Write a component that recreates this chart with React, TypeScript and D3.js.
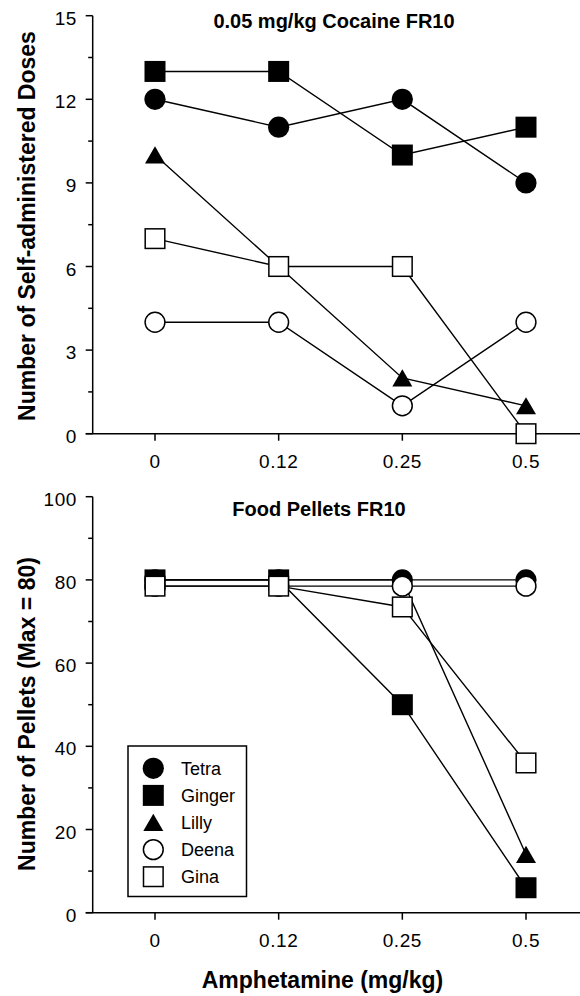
import React from "react";
import * as d3 from "d3";

const doses = ["0", "0.12", "0.25", "0.5"];
const subjects = ["Tetra", "Ginger", "Lilly", "Deena", "Gina"];
const symbols = ["circleFilled", "squareFilled", "triangleFilled", "circleOpen", "squareOpen"];

// Top panel: 0.05 mg/kg Cocaine FR10
const tetraCocaine = [12, 11, 12, 9];
const gingerCocaine = [13, 13, 10, 11];
const lillyCocaine = [10, 6, 2, 1];
const deenaCocaine = [4, 4, 1, 4];
const ginaCocaine = [7, 6, 6, 0];

// Bottom panel: Food Pellets FR10
const tetraFood = [80, 80, 80, 80];
const gingerFood = [80, 80, 50, 6];
const lillyFood = [80, 80, 80, 14];
const deenaFood = [78.5, 78.5, 78.5, 78.5];
const ginaFood = [78.5, 78.5, 73.5, 36];

const topTicks = [0, 3, 6, 9, 12, 15];
const topMinor = [1.5, 4.5, 7.5, 10.5, 13.5];
const bottomTicks = [0, 20, 40, 60, 80, 100];
const bottomMinor = [10, 30, 50, 70, 90];

const FONT = "'Liberation Sans', Arial, Helvetica, sans-serif";
const W = 580;
const H = 996;
const AXIS_X = 92.7;

function Marker({ type, x, y }: { type: string; x: number; y: number }) {
  const sw = 1.5;
  if (type === "circleFilled") return <circle cx={x} cy={y} r={10.6} fill="#000" />;
  if (type === "circleOpen") return <circle cx={x} cy={y} r={9.9} fill="#fff" stroke="#000" strokeWidth={sw} />;
  if (type === "squareFilled") return <rect x={x - 10.5} y={y - 10.5} width={21} height={21} fill="#000" />;
  if (type === "squareOpen") return <rect x={x - 9.8} y={y - 9.8} width={19.6} height={19.6} fill="#fff" stroke="#000" strokeWidth={sw} />;
  const pts = [[x, y - 8.7], [x + 10, y + 8.5], [x - 10, y + 8.5]];
  return <polygon points={pts.map((p) => p.join(",")).join(" ")} fill="#000" />;
}

function Panel({
  series, domainMax, ticks, minor, top, bottom, title, titleX, titleY, yLabel, yLabelCenter, showLegend,
}: {
  series: number[][]; domainMax: number; ticks: number[]; minor: number[]; top: number; bottom: number;
  title: string; titleX: number; titleY: number; yLabel: string; yLabelCenter: number; showLegend: boolean;
}) {
  const x = d3.scalePoint<string>().domain(doses).range([155, 526]);
  const y = d3.scaleLinear().domain([0, domainMax]).range([bottom, top]);
  const line = d3.line<number>().x((_, i) => x(doses[i]) as number).y((d) => y(d));
  return (
    <g>
      {/* axes */}
      <line x1={AXIS_X} x2={AXIS_X} y1={top} y2={bottom} stroke="#000" strokeWidth={1.5} />
      <line x1={AXIS_X - 7} x2={W} y1={bottom} y2={bottom} stroke="#000" strokeWidth={1.5} />
      {ticks.map((t) => (
        <g key={"t" + t}>
          <line x1={AXIS_X - 7} x2={AXIS_X} y1={y(t)} y2={y(t)} stroke="#000" strokeWidth={1.5} />
          <text x={77} y={y(t) + 9} textAnchor="end" fontFamily={FONT} fontSize={19} letterSpacing={0.6}>{t}</text>
        </g>
      ))}
      {minor.map((t) => (
        <line key={"m" + t} x1={AXIS_X - 4.5} x2={AXIS_X} y1={y(t)} y2={y(t)} stroke="#000" strokeWidth={1.5} />
      ))}
      {doses.map((d) => (
        <g key={"x" + d}>
          <line x1={x(d)} x2={x(d)} y1={bottom} y2={bottom + 7} stroke="#000" strokeWidth={1.5} />
          <text x={x(d)} y={bottom + 34.5} textAnchor="middle" fontFamily={FONT} fontSize={19} letterSpacing={0.6}>{d}</text>
        </g>
      ))}
      <text x={titleX} y={titleY} textAnchor="middle" fontFamily={FONT} fontSize={20} fontWeight="bold">{title}</text>
      <text transform={`translate(35,${yLabelCenter}) rotate(-90)`} textAnchor="middle" fontFamily={FONT} fontSize={23} fontWeight="bold">{yLabel}</text>
      {/* lines */}
      {series.map((s, i) => (
        <path key={"l" + i} d={line(s) as string} fill="none" stroke="#000" strokeWidth={1.4} />
      ))}
      {/* markers */}
      {series.map((s, i) =>
        s.map((v, j) => <Marker key={`p${i}-${j}`} type={symbols[i]} x={x(doses[j]) as number} y={y(v)} />)
      )}
      {showLegend && (
        <g>
          <rect x={128} y={746} width={118.5} height={150.5} fill="#fff" stroke="#000" strokeWidth={1.5} />
          {subjects.map((name, i) => {
            const cy = 768.3 + i * 27.1;
            return (
              <g key={name}>
                <Marker type={symbols[i]} x={153.3} y={cy} />
                <text x={181} y={cy + 6.5} fontFamily={FONT} fontSize={18}>{name}</text>
              </g>
            );
          })}
        </g>
      )}
    </g>
  );
}

export default function App() {
  const topSeries = [tetraCocaine, gingerCocaine, lillyCocaine, deenaCocaine, ginaCocaine];
  const bottomSeries = [tetraFood, gingerFood, lillyFood, deenaFood, ginaFood];
  return (
    <svg width={W} height={H} style={{ position: "absolute", left: 0, top: 0, background: "#fff" }}>
      <rect width={W} height={H} fill="#fff" />
      <Panel series={topSeries} domainMax={15} ticks={topTicks} minor={topMinor} top={15.7} bottom={433.7}
        title="0.05 mg/kg Cocaine FR10" titleX={334} titleY={28} yLabel="Number of Self-administered Doses"
        yLabelCenter={226} showLegend={false} />
      <Panel series={bottomSeries} domainMax={100} ticks={bottomTicks} minor={bottomMinor} top={496.7} bottom={912.7}
        title="Food Pellets FR10" titleX={319} titleY={516} yLabel="Number of Pellets (Max = 80)"
        yLabelCenter={714} showLegend={true} />
      <text x={322.5} y={988} textAnchor="middle" fontFamily={FONT} fontSize={23} fontWeight="bold">Amphetamine (mg/kg)</text>
    </svg>
  );
}
